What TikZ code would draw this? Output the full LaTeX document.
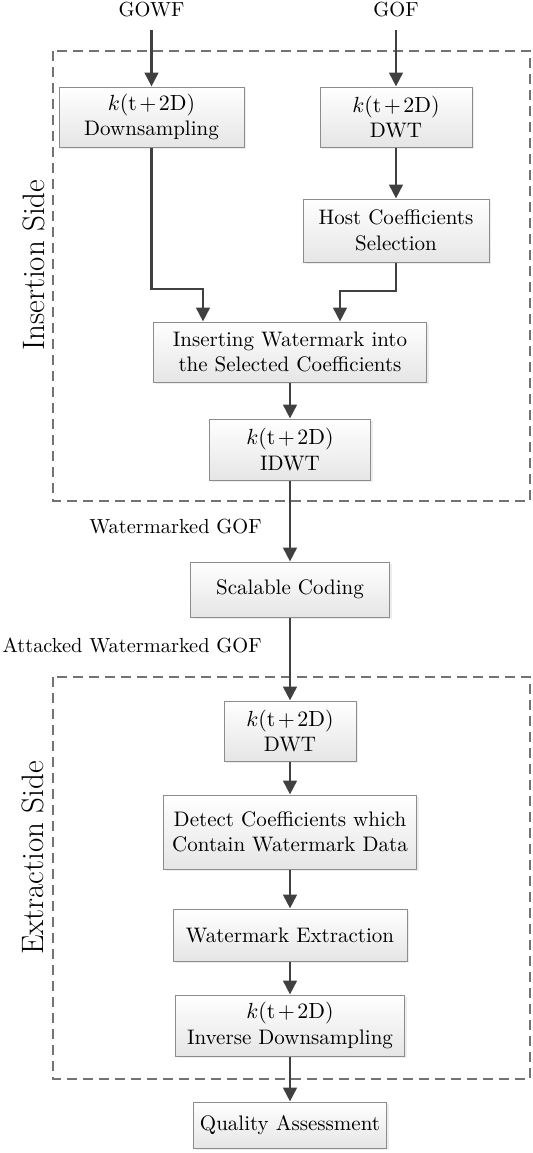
\documentclass[tikz,border=0pt]{standalone}
\usetikzlibrary{arrows.meta,shadows}
\newcommand{\ktd}{$k(\mathrm{t}\mskip2mu{+}\mskip2mu2\mathrm{D})$}
\begin{document}
\begin{tikzpicture}[x=0.5pt,y=-0.5pt,
  blk/.style={draw=black!45, line width=0.5pt, top color=white, bottom color=black!10,
    align=center, inner sep=0pt, font=\fontsize{10.5}{12.8}\selectfont,
    drop shadow={shadow xshift=1.1pt, shadow yshift=-1.1pt, fill=black!14}},
  arr/.style={draw=black!75, line width=1.4pt, -{Triangle[length=7pt,width=6.8pt]}},
  grp/.style={draw=black!55, line width=0.7pt, dash pattern=on 5pt off 3pt},
  lbl/.style={inner sep=0pt, font=\fontsize{10.2}{12.4}\selectfont},
  side/.style={rotate=90, inner sep=0pt, font=\fontsize{15.5}{18}\selectfont}]
\useasboundingbox (0,0) rectangle (533,1153);

% group frames
\draw[grp] (53,51) rectangle (530,501);
\draw[grp] (53,677) rectangle (530,1079);
\node[side] (inside) at (34,265) {Insertion Side};
\node[side] (exside) at (33,858) {Extraction Side};

% inputs
\node[lbl] (gowf) at (151.5,10) {GOWF};
\node[lbl] (gof) at (396,10) {GOF};

% boxes
\node[blk, minimum width=92.5pt, minimum height=30pt] (down) at (151.5,117)
  {\ktd\\Downsampling};
\node[blk, minimum width=76pt, minimum height=30pt] (dwt) at (396,117)
  {\ktd\\DWT};
\node[blk, minimum width=93pt, minimum height=31.5pt] (host) at (396,230.5)
  {Host Coefficients\\Selection};
\node[blk, minimum width=136.5pt, minimum height=30pt] (ins) at (290,352)
  {Inserting Watermark into\\the Selected Coefficients};
\node[blk, minimum width=80.5pt, minimum height=30.5pt] (idwt) at (290,449.5)
  {\ktd\\IDWT};
\node[blk, minimum width=99.5pt, minimum height=27.5pt] (scal) at (290,589.5)
  {Scalable Coding};
\node[blk, minimum width=66pt, minimum height=30pt] (dwtb) at (290,731)
  {\ktd\\DWT};
\node[blk, minimum width=126.5pt, minimum height=37pt] (det) at (290,832)
  {Detect Coefficients which\\Contain Watermark Data};
\node[blk, minimum width=117pt, minimum height=26pt] (wext) at (290,935)
  {Watermark Extraction};
\node[blk, minimum width=114.5pt, minimum height=30.5pt] (inv) at (290,1025.5)
  {\ktd\\Inverse Downsampling};
\node[blk, minimum width=96.5pt, minimum height=23pt] (qa) at (290,1125)
  {Quality Assessment};

% labels
\node[lbl, anchor=east] (wgof) at (262,527) {Watermarked GOF};
\node[lbl, anchor=east] (agof) at (262,645) {Attacked Watermarked GOF};

% connectors
\draw[arr, shorten <=6pt] (gowf) -- (down);
\draw[arr, shorten <=6pt] (gof) -- (dwt);
\draw[arr] (dwt) -- (host);
\coordinate (c1) at (203,289);
\coordinate (c2) at (340,291);
\draw[arr] (down.south) |- (c1) -- (c1 |- ins.north);
\draw[arr] (host.south) |- (c2) -- (c2 |- ins.north);
\draw[arr] (ins) -- (idwt);
\draw[arr] (idwt) -- (scal);
\draw[arr] (scal) -- (dwtb);
\draw[arr] (dwtb) -- (det);
\draw[arr] (det) -- (wext);
\draw[arr] (wext) -- (inv);
\draw[arr] (inv) -- (qa);
\end{tikzpicture}
\end{document}
